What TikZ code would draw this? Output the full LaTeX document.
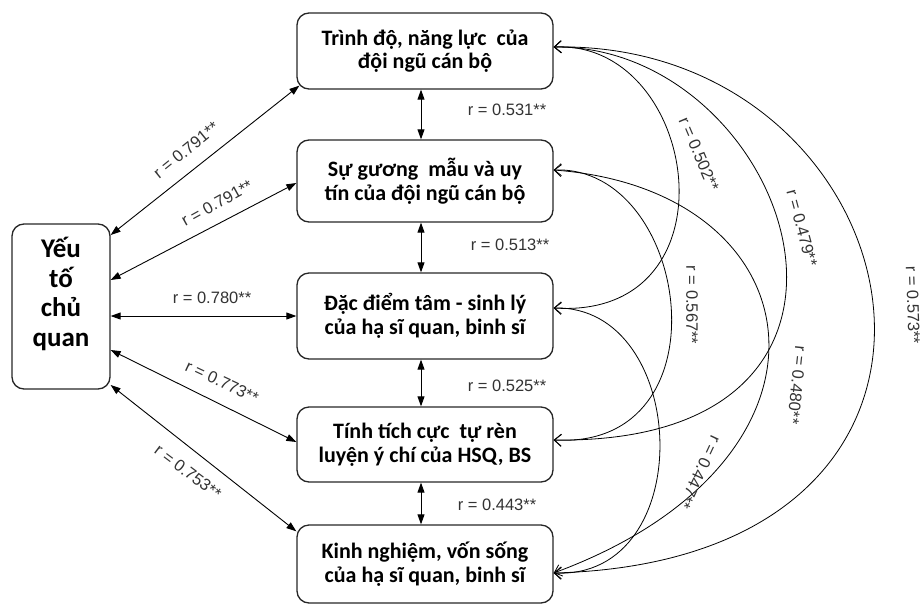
\documentclass[tikz,border=0pt]{standalone}
\usepackage{fontspec}
\setmainfont{Carlito}
\newfontfamily\lblfont{Liberation Sans}
\usetikzlibrary{arrows.meta}

\begin{document}
\begin{tikzpicture}[x=1pt,y=-1pt,
  box/.style={draw=black!85, line width=1.3pt, rounded corners=12pt,
    minimum width=256pt, align=center, inner sep=0pt,
    font=\fontsize{22}{23.5}\selectfont\bfseries},
  bigtext/.style={align=center, inner sep=0pt,
    font=\fontsize{27}{29.5}\selectfont\bfseries},
  corr/.style={font=\lblfont\fontsize{16.5}{18}\selectfont, text=black!80, inner sep=1pt},
  link/.style={line width=0.9pt,
    {Triangle[length=10pt,width=7pt]}-{Triangle[length=10pt,width=7pt]}},
  arcl/.style={line width=0.8pt,
    {Straight Barb[length=7pt,width=12pt]}-{Straight Barb[length=7pt,width=12pt]}}
]
\useasboundingbox (0,0) rectangle (923,608);

% factor boxes
\node[box, minimum height=76pt] (b1) at (425,51)    {Trình độ, năng lực~ của\\đội ngũ cán bộ};
\node[box, minimum height=82pt] (b2) at (425,181)   {Sự gương~ mẫu và uy\\tín của đội ngũ cán bộ};
\node[box, minimum height=86pt] (b3) at (425,316)   {Đặc điểm tâm - sinh lý\\của hạ sĩ quan, binh sĩ};
\node[box, minimum height=75pt] (b4) at (425,444.5) {Tính tích cực~ tự rèn\\luyện ý chí của HSQ, BS};
\node[box, minimum height=78pt] (b5) at (425,564)   {Kinh nghiệm, vốn sống\\của hạ sĩ quan, binh sĩ};

% subjective factor box
\node[box, minimum width=98pt, minimum height=165pt] (yt) at (61,306.5) {};
\node[bigtext] (ytt) at (61,294) {Yếu\\tố\\chủ\\quan};

% links from the subjective factor
\draw[link] (yt.east |- 0,235) -- ([shift={(3pt,4pt)}]b1.south west);
\draw[link] (yt.east |- 0,280) -- (b2.west |- 0,183);
\draw[link] (yt.east |- 0,316) -- (b3.west |- 0,316);
\draw[link] (yt.east |- 0,350) -- (b4.west |- 0,442);
\draw[link] (yt.east |- 0,385) -- ([shift={(0pt,-7pt)}]b5.north west);

\node[corr, rotate=39]  at (186,150) {r = 0.791**};
\node[corr, rotate=29]  at (217,203) {r = 0.791**};
\node[corr]             at (212,298) {r = 0.780**};
\node[corr, rotate=-25] at (222,382) {r = 0.773**};
\node[corr, rotate=-37] at (188,472) {r = 0.753**};

% links between neighbouring boxes
\draw[link] (b1.south -| 421,0) -- (b2.north -| 421,0);
\draw[link] (b2.south -| 421,0) -- (b3.north -| 421,0);
\draw[link] (b3.south -| 421,0) -- (b4.north -| 421,0);
\draw[link] (b4.south -| 421,0) -- (b5.north -| 421,0);

\node[corr] at (507,110) {r = 0.531**};
\node[corr] at (510,245) {r = 0.513**};
\node[corr] at (507,386) {r = 0.525**};
\node[corr] at (497,505) {r = 0.443**};

% arcs between non-neighbouring boxes
\draw[arcl] (b1.east |- 0,47)  .. controls (700,40)  and (740,320)  .. (b3.east |- 0,308);
\draw[arcl] (b1.east |- 0,47)  .. controls (790,45)  and (930,445)  .. (b4.east |- 0,440);
\draw[arcl] (b1.east |- 0,47)  .. controls (920,40)  and (1038,560) .. (b5.east |- 0,573);
\draw[arcl] (b2.east |- 0,170) .. controls (690,165) and (730,450)  .. (b4.east |- 0,440);
\draw[arcl] (b2.east |- 0,170) .. controls (820,190) and (860,460)  .. (b5.east |- 0,573);
\draw[arcl] (b3.east |- 0,308) .. controls (690,305) and (700,580)  .. (b5.east |- 0,573);

\node[corr, rotate=-67]  at (699,154) {r = 0.502**};
\node[corr, rotate=-75]  at (802,228) {r = 0.479**};
\node[corr, rotate=-88]  at (913,305) {r = 0.573**};
\node[corr, rotate=-90]  at (692,305) {r = 0.567**};
\node[corr, rotate=-96]  at (797,385) {r = 0.480**};
\node[corr, rotate=-115] at (700,472) {r = 0.447**};
\end{tikzpicture}
\end{document}
